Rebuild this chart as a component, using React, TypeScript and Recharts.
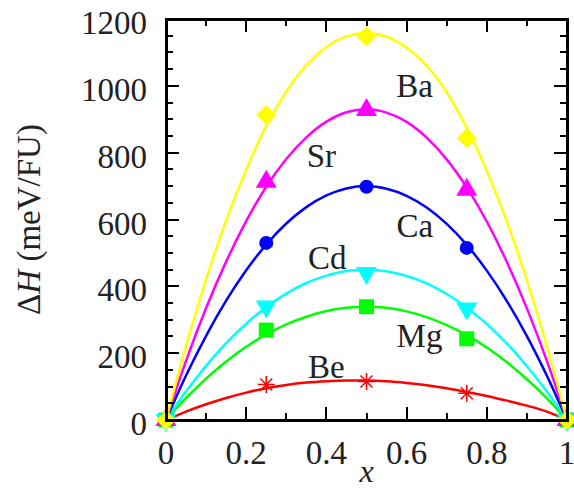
import React from "react";
import { ComposedChart, Line, XAxis, YAxis } from "recharts";

// fitted curves, sampled along x
const curveX = [0, 0.05, 0.1, 0.15, 0.2, 0.25, 0.3, 0.35, 0.4, 0.45, 0.5, 0.55, 0.6, 0.65, 0.7, 0.75, 0.8, 0.85, 0.9, 0.95, 1];
const baCurve = [0, 222, 421, 597, 749, 880, 983, 1062, 1116, 1148, 1158, 1147, 1114, 1060, 980, 874, 745, 594, 418, 220, 0];
const srCurve = [0, 177, 335, 474, 595, 698, 781, 846, 893, 921, 930, 920, 892, 845, 780, 696, 594, 473, 334, 176, 0];
const caCurve = [0, 133, 252, 357, 448, 525, 588, 637, 672, 693, 700, 692, 671, 636, 587, 524, 447, 356, 251, 132, 0];
const cdCurve = [0, 86, 162, 230, 288, 338, 378, 410, 432, 446, 450, 445, 431, 409, 377, 337, 287, 229, 161, 85, 0];
const mgCurve = [0, 66, 124, 175, 219, 256, 286, 309, 326, 336, 339, 336, 325, 308, 284, 254, 217, 173, 122, 65, 0];
const beCurve = [0, 25, 47, 66, 82, 95, 105, 112, 116, 118, 118, 116, 111, 104, 95, 84, 72, 58, 43, 25, 0];

// computed points
const pointX = [0, 0.25, 0.5, 0.75, 1];
const baPoints = [0, 913, 1148, 843, 0];
const srPoints = [0, 713, 928, 689, 0];
const caPoints = [0, 530, 698, 515, 0];
const cdPoints = [0, 340, 440, 334, 0];
const mgPoints = [0, 269, 339, 243, 0];
const bePoints = [0, 106, 115, 80, 0];

// element labels
const labelNames = ["Ba", "Sr", "Ca", "Cd", "Mg", "Be"];
const labelX = [0.574, 0.351, 0.575, 0.354, 0.575, 0.354];
const labelY = [967, 757, 548, 452, 217, 126];

const X_MAX = 1;
const Y_MAX = 1200;
const xTicks = [0, 0.1, 0.2, 0.3, 0.4, 0.5, 0.6, 0.7, 0.8, 0.9, 1];
const yTicks = [0, 50, 100, 150, 200, 250, 300, 350, 400, 450, 500, 550, 600, 650, 700, 750, 800, 850, 900, 950, 1000, 1050, 1100, 1150, 1200];

const W = 574;
const H = 489;
const MARGIN = { top: 19, right: 7, bottom: 29, left: 0 };
const X_AXIS_H = 40;
const Y_AXIS_W = 166;
const PLOT_LEFT = MARGIN.left + Y_AXIS_W;
const PLOT_TOP = MARGIN.top;
const PLOT_W = W - MARGIN.left - MARGIN.right - Y_AXIS_W;
const PLOT_H = H - MARGIN.top - MARGIN.bottom - X_AXIS_H;

const FONT = "'Liberation Serif', 'Times New Roman', serif";
const TEXT = "#222";
const INK = "#000";

const rows = (xs: number[], ys: number[]) => xs.map((x, i) => ({ x, y: ys[i] }));
const labelRows = labelNames.map((name, i) => ({ x: labelX[i], y: labelY[i], name }));

const isMajorX = (v: number) => Math.round(v * 10) % 2 === 0;
const isMajorY = (v: number) => v % 200 === 0;
const fmtX = (v: number) => (v === 0 ? "0" : v === 1 ? "1" : v.toFixed(1));

const bottomTick = (props: any) => {
  const { x, y, payload } = props;
  if (!isMajorX(payload.value)) return <g />;
  return (
    <text x={x} y={y + 44} textAnchor="middle" fontSize={33} fontFamily={FONT} fill={TEXT}>
      {fmtX(payload.value)}
    </text>
  );
};

const leftTick = (props: any) => {
  const { x, y, payload } = props;
  if (!isMajorY(payload.value)) return <g />;
  return (
    <text x={x - 19} y={y + 15} textAnchor="end" fontSize={33} fontFamily={FONT} fill={TEXT}>
      {payload.value}
    </text>
  );
};

// plot box with inward ticks on all four sides, built from plain divs over the chart
const bar = (key: string, left: number, top: number, width: number, height: number) => (
  <div
    key={key}
    style={{ position: "absolute", left, top, width, height, background: INK, pointerEvents: "none" }}
  />
);

const Frame = () => {
  const px = (v: number) => PLOT_LEFT + (v / X_MAX) * PLOT_W;
  const py = (v: number) => PLOT_TOP + PLOT_H - (v / Y_MAX) * PLOT_H;
  const bottom = PLOT_TOP + PLOT_H;
  const right = PLOT_LEFT + PLOT_W;
  const parts: React.ReactNode[] = [];
  xTicks.forEach((v) => {
    const len = isMajorX(v) ? 13 : 7;
    parts.push(bar(`xb-${v}`, px(v) - 1, bottom - len, 2, len));
    parts.push(bar(`xt-${v}`, px(v) - 1, PLOT_TOP, 2, len));
  });
  yTicks.forEach((v) => {
    const len = isMajorY(v) ? 13 : 7;
    parts.push(bar(`yl-${v}`, PLOT_LEFT, py(v) - 1, len, 2));
    parts.push(bar(`yr-${v}`, right - len, py(v) - 1, len, 2));
  });
  parts.push(bar("top", PLOT_LEFT - 1.5, PLOT_TOP - 1.5, PLOT_W + 3, 3));
  parts.push(bar("bottom", PLOT_LEFT - 1.5, bottom - 1.5, PLOT_W + 3, 3));
  parts.push(bar("left", PLOT_LEFT - 1.5, PLOT_TOP - 1.5, 3, PLOT_H + 3));
  parts.push(bar("right", right - 1.5, PLOT_TOP - 1.5, 3, PLOT_H + 3));
  return <>{parts}</>;
};

const diamond = (fill: string) => (p: any) => (
  <path
    key={`m-${p.index}`}
    d={`M${p.cx},${p.cy - 10}L${p.cx + 10},${p.cy}L${p.cx},${p.cy + 10}L${p.cx - 10},${p.cy}Z`}
    fill={fill}
  />
);
const triUp = (fill: string) => (p: any) => (
  <path
    key={`m-${p.index}`}
    d={`M${p.cx},${p.cy - 12}L${p.cx + 10.5},${p.cy + 6}L${p.cx - 10.5},${p.cy + 6}Z`}
    fill={fill}
  />
);
const triDown = (fill: string) => (p: any) => (
  <path
    key={`m-${p.index}`}
    d={`M${p.cx},${p.cy + 12}L${p.cx + 10.5},${p.cy - 6}L${p.cx - 10.5},${p.cy - 6}Z`}
    fill={fill}
  />
);
const circle = (fill: string) => (p: any) => <circle key={`m-${p.index}`} cx={p.cx} cy={p.cy} r={7} fill={fill} />;
const square = (fill: string) => (p: any) => (
  <rect key={`m-${p.index}`} x={p.cx - 7.5} y={p.cy - 7.5} width={15} height={15} fill={fill} />
);
const star = (stroke: string) => (p: any) => (
  <path
    key={`m-${p.index}`}
    d={`M${p.cx - 8.5},${p.cy}H${p.cx + 8.5}M${p.cx},${p.cy - 8.5}V${p.cy + 8.5}M${p.cx - 6},${p.cy - 6}L${p.cx + 6},${p.cy + 6}M${p.cx - 6},${p.cy + 6}L${p.cx + 6},${p.cy - 6}`}
    stroke={stroke}
    strokeWidth={1.5}
    fill="none"
  />
);

const nameLabel = (p: any) => (
  <text key={`l-${p.index}`} x={p.cx} y={p.cy} fontSize={33} fontFamily={FONT} fill={TEXT}>
    {p.payload.name}
  </text>
);

const series = [
  { key: "Be", color: "#ff0000", curve: beCurve, points: bePoints, shape: star },
  { key: "Mg", color: "#00ff00", curve: mgCurve, points: mgPoints, shape: square },
  { key: "Cd", color: "#00ffff", curve: cdCurve, points: cdPoints, shape: triDown },
  { key: "Ca", color: "#0000ff", curve: caCurve, points: caPoints, shape: circle },
  { key: "Sr", color: "#ff00ff", curve: srCurve, points: srPoints, shape: triUp },
  { key: "Ba", color: "#ffff00", curve: baCurve, points: baPoints, shape: diamond },
];

export default function App() {
  return (
    <div style={{ position: "absolute", left: 0, top: 0, width: W, height: H, background: "#fff" }}>
      <ComposedChart width={W} height={H} margin={MARGIN}>
        <XAxis
          dataKey="x"
          type="number"
          domain={[0, X_MAX]}
          ticks={xTicks}
          interval={0}
          height={X_AXIS_H}
          tickSize={0}
          tickMargin={0}
          axisLine={false}
          tickLine={false}
          tick={bottomTick}
          label={{
            content: (p: any) => (
              <text
                x={p.viewBox.x + p.viewBox.width / 2}
                y={p.viewBox.y + 62}
                textAnchor="middle"
                fontSize={32}
                fontStyle="italic"
                fontFamily={FONT}
                fill={TEXT}
              >
                x
              </text>
            ),
          }}
        />
        <YAxis
          dataKey="y"
          type="number"
          domain={[0, Y_MAX]}
          ticks={yTicks}
          interval={0}
          width={Y_AXIS_W}
          tickSize={0}
          tickMargin={0}
          axisLine={false}
          tickLine={false}
          tick={leftTick}
          label={{
            content: (p: any) => (
              <text
                transform={`translate(40,${p.viewBox.y + p.viewBox.height / 2}) rotate(-90)`}
                textAnchor="middle"
                fontSize={33}
                fontFamily={FONT}
                fill={TEXT}
              >
                Δ<tspan fontStyle="italic">H</tspan> (meV/FU)
              </text>
            ),
          }}
        />
        {series.map((s) => (
          <Line
            key={`c-${s.key}`}
            data={rows(curveX, s.curve)}
            dataKey="y"
            type="monotone"
            stroke={s.color}
            strokeWidth={2.5}
            dot={false}
            activeDot={false}
            isAnimationActive={false}
          />
        ))}
        {series.map((s) => (
          <Line
            key={`p-${s.key}`}
            data={rows(pointX, s.points)}
            dataKey="y"
            stroke="none"
            dot={s.shape(s.color)}
            activeDot={false}
            isAnimationActive={false}
          />
        ))}
        <Line
          data={labelRows}
          dataKey="y"
          stroke="none"
          dot={nameLabel}
          activeDot={false}
          isAnimationActive={false}
        />
      </ComposedChart>
      <Frame />
    </div>
  );
}
